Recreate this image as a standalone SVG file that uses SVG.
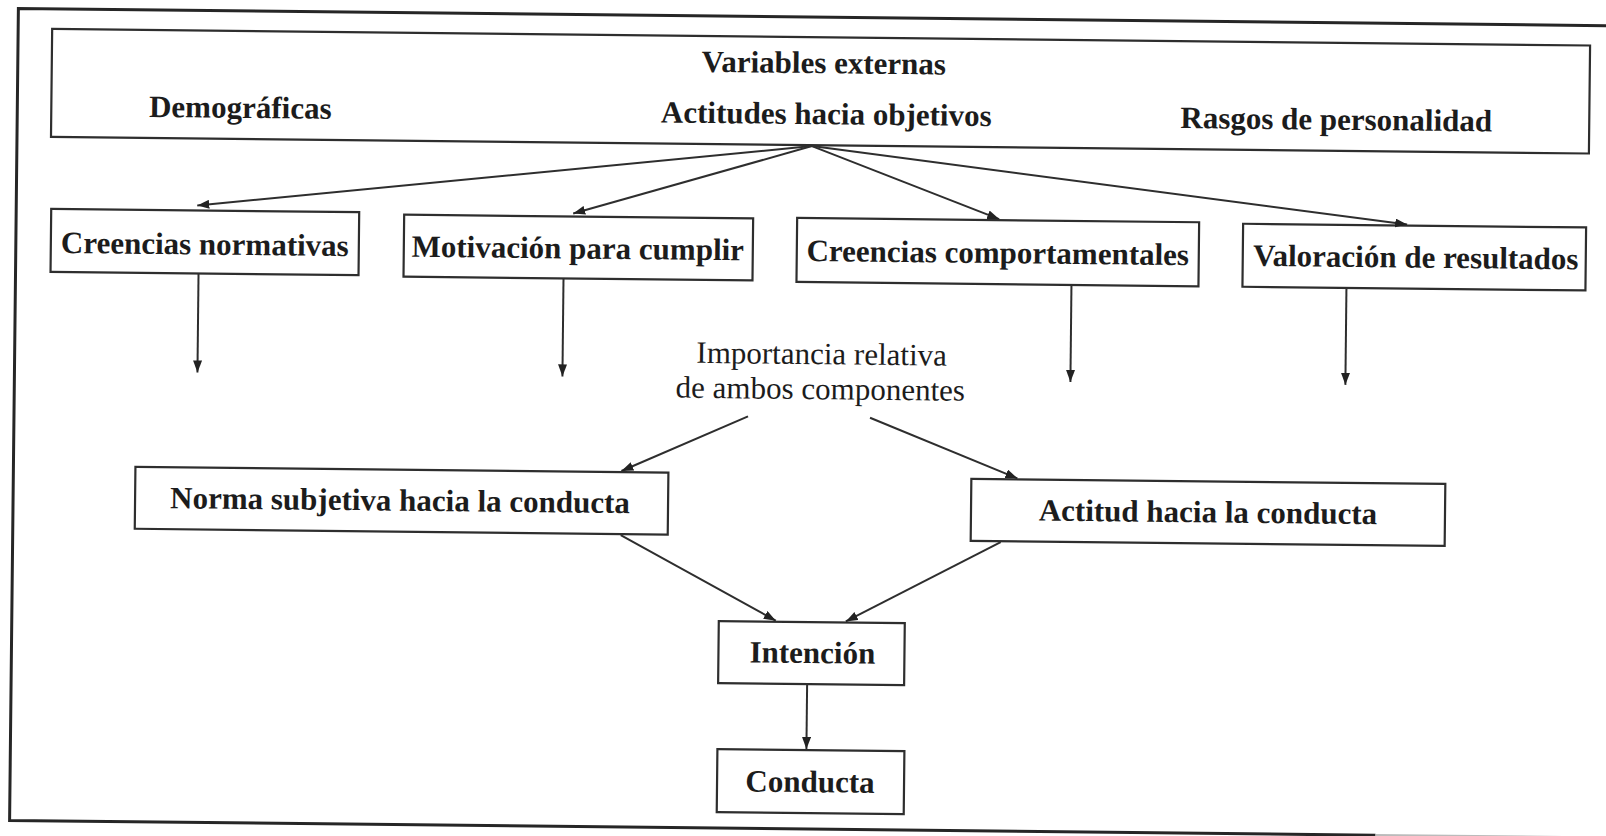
<svg xmlns="http://www.w3.org/2000/svg" width="1606" height="836" viewBox="0 0 1606 836">
<style>
.box{fill:#fff;stroke:#2e2e2e;stroke-width:2.2}
.t{font-family:"Liberation Serif","Times New Roman",serif;font-weight:bold;font-size:31px;fill:#1c1c1c;text-anchor:middle}
.r{font-family:"Liberation Serif","Times New Roman",serif;font-size:31px;fill:#1c1c1c;text-anchor:middle}
.c{stroke:#2e2e2e;stroke-width:2;fill:none;marker-end:url(#ah)}
.frame{stroke:#262626;stroke-width:3;fill:none}
</style>
<defs>
<marker id="ah" markerUnits="userSpaceOnUse" markerWidth="13" markerHeight="9" refX="12" refY="4.5" orient="auto">
<path d="M0,0 L12,4.5 L0,9 z" fill="#222"/>
</marker>
</defs>
<rect width="1606" height="836" fill="#fff"/>
<g transform="rotate(0.62 803 418)">
<g id="frame">
<path class="frame" d="M1612,17 L14,17 L14,829 L1380,829"/>
<path d="M1380,829 L1612,829" stroke="#bbb" stroke-width="2.5" fill="none"/>
</g>
<g id="externas">
<rect class="box" x="48" y="37" width="1538" height="108"/>
<text class="t" x="820" y="73">Variables externas</text>
<text class="t" x="237" y="124">Demográficas</text>
<text class="t" x="823" y="124">Actitudes hacia objetivos</text>
<text class="t" x="1333" y="124">Rasgos de personalidad</text>
</g>
<g id="creencias-normativas">
<rect class="box" x="49" y="217" width="308" height="63"/>
<text class="t" x="203" y="261">Creencias normativas</text>
</g>
<g id="motivacion">
<rect class="box" x="402" y="219" width="349" height="62"/>
<text class="t" x="576" y="261">Motivación para cumplir</text>
</g>
<g id="creencias-comportamentales">
<rect class="box" x="795" y="218" width="402" height="64"/>
<text class="t" x="996" y="261">Creencias comportamentales</text>
</g>
<g id="valoracion">
<rect class="box" x="1241" y="219" width="343" height="63"/>
<text class="t" x="1414" y="261">Valoración de resultados</text>
</g>
<g id="importancia">
<text class="r" x="821" y="364">Importancia relativa</text>
<text class="r" x="820" y="399">de ambos componentes</text>
</g>
<g id="norma">
<rect class="box" x="136" y="474" width="533" height="62"/>
<text class="t" x="401" y="515">Norma subjetiva hacia la conducta</text>
</g>
<g id="actitud">
<rect class="box" x="972" y="477" width="474" height="62"/>
<text class="t" x="1209" y="518">Actitud hacia la conducta</text>
</g>
<g id="intencion">
<rect class="box" x="721" y="622" width="186" height="62"/>
<text class="t" x="815" y="663">Intención</text>
</g>
<g id="conducta">
<rect class="box" x="721" y="750" width="187" height="63"/>
<text class="t" x="814" y="792">Conducta</text>
</g>
<g id="connectors">
<line class="c" x1="809" y1="146" x2="195" y2="212"/>
<line class="c" x1="809" y1="146" x2="571" y2="216"/>
<line class="c" x1="809" y1="146" x2="997" y2="217"/>
<line class="c" x1="809" y1="146" x2="1405" y2="218"/>
<line class="c" x1="197" y1="280" x2="197" y2="379"/>
<line class="c" x1="562" y1="281" x2="562" y2="379"/>
<line class="c" x1="1070" y1="282" x2="1070" y2="379"/>
<line class="c" x1="1345" y1="282" x2="1345" y2="379"/>
<line class="c" x1="748" y1="417" x2="622" y2="473"/>
<line class="c" x1="870" y1="417" x2="1018" y2="476"/>
<line class="c" x1="622" y1="537" x2="778" y2="621"/>
<line class="c" x1="1002" y1="540" x2="848" y2="621"/>
<line class="c" x1="810" y1="684" x2="810" y2="749"/>
</g>
</g>
</svg>
